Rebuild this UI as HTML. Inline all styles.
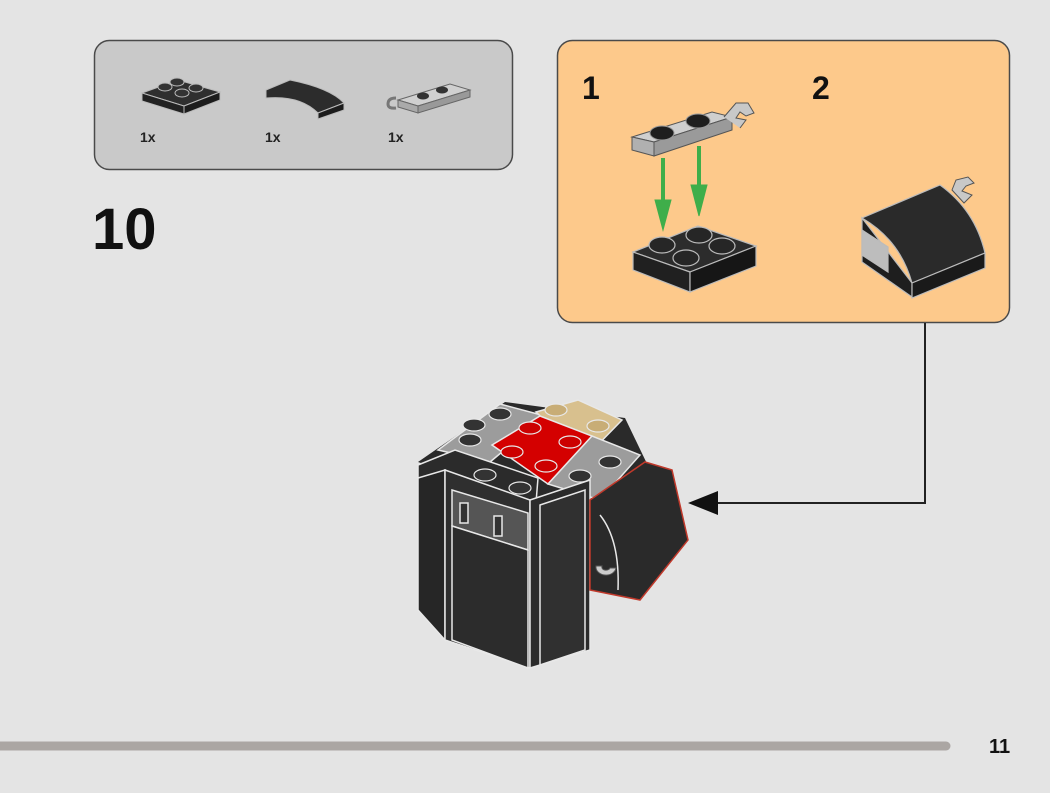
<!DOCTYPE html>
<html><head><meta charset="utf-8"><style>
html,body{margin:0;padding:0;background:#e4e4e4;}
body{width:1050px;height:793px;overflow:hidden;position:relative;font-family:"Liberation Sans",sans-serif;}
</style></head><body>
<svg width="1050" height="793" viewBox="0 0 1050 793" xmlns="http://www.w3.org/2000/svg" style="position:absolute;left:0;top:0">
<rect width="1050" height="793" fill="#e4e4e4"/>
<rect x="94.5" y="40.5" width="418" height="129" rx="15" fill="#c9c9c9" stroke="#4a4a4a" stroke-width="1.5"/>
<g stroke="#bbb" stroke-width="1">
<polygon points="142,93 178,80 220,92 184,106" fill="#2f2f2f"/>
<polygon points="142,93 184,106 184,114 142,101" fill="#222"/>
<polygon points="184,106 220,92 220,100 184,114" fill="#1c1c1c"/>
<ellipse cx="165" cy="87" rx="7" ry="4" fill="#333"/><ellipse cx="182" cy="93" rx="7" ry="4" fill="#333"/>
<ellipse cx="177" cy="82" rx="7" ry="4" fill="#333"/><ellipse cx="196" cy="88" rx="7" ry="4" fill="#333"/>
</g>
<text x="140" y="142" font-size="14" font-weight="bold" fill="#222">1x</text>
<path d="M266,90 L290,80 Q330,88 344,103 L318,113 Q300,95 266,98 Z" fill="#2c2c2c" stroke="#bbb"/>
<polygon points="318,113 344,103 344,110 318,119" fill="#1c1c1c" stroke="#bbb"/>
<text x="265" y="142" font-size="14" font-weight="bold" fill="#222">1x</text>
<polygon points="398,100 450,84 470,90 418,106" fill="#d0d0d0" stroke="#666"/>
<polygon points="398,100 418,106 418,113 398,107" fill="#aaa" stroke="#666"/>
<polygon points="418,106 470,90 470,97 418,113" fill="#999" stroke="#666"/>
<ellipse cx="423" cy="96" rx="6" ry="3.5" fill="#333"/><ellipse cx="442" cy="90" rx="6" ry="3.5" fill="#333"/>
<path d="M396,98 q-8,0 -8,6 q0,5 8,4" fill="none" stroke="#777" stroke-width="3"/>
<text x="388" y="142" font-size="14" font-weight="bold" fill="#222">1x</text>
<text x="92" y="249" font-size="58" font-weight="bold" fill="#111">10</text>
<rect x="557.5" y="40.5" width="452" height="282" rx="15" fill="#fdc98b" stroke="#4a4a4a" stroke-width="1.5"/>
<text x="582" y="99" font-size="32" font-weight="bold" fill="#111">1</text>
<text x="812" y="99" font-size="32" font-weight="bold" fill="#111">2</text>
<g stroke="#555" stroke-width="1">
<polygon points="632,137 712,112 732,117 654,142" fill="#cfcfcf"/>
<polygon points="632,137 654,142 654,156 632,150" fill="#b0b0b0"/>
<polygon points="654,142 732,117 732,130 654,156" fill="#9a9a9a"/>
<path d="M724,117 l12,-14 l12,0 l6,10 l-8,3 l-6,-4 l-4,6 l10,2 l-6,8" fill="#c8c8c8"/>
</g>
<ellipse cx="662" cy="133" rx="12" ry="7" fill="#1e1e1e" stroke="#999"/>
<ellipse cx="698" cy="121" rx="12" ry="7" fill="#1e1e1e" stroke="#999"/>
<g fill="#3fae4a" stroke="#3fae4a">
<line x1="663" y1="158" x2="663" y2="210" stroke-width="4"/><polygon points="655,200 671,200 663,230"/>
<line x1="699" y1="146" x2="699" y2="195" stroke-width="4"/><polygon points="691,185 707,185 699,216"/>
</g>
<g stroke="#bbb" stroke-width="1.2">
<polygon points="633,252 698,226 756,246 690,272" fill="#2c2c2c"/>
<polygon points="633,252 690,272 690,292 633,270" fill="#202020"/>
<polygon points="690,272 756,246 756,266 690,292" fill="#161616"/>
<ellipse cx="662" cy="245" rx="13" ry="8" fill="#262626"/><ellipse cx="699" cy="235" rx="13" ry="8" fill="#262626"/>
<ellipse cx="686" cy="258" rx="13" ry="8" fill="#262626"/><ellipse cx="722" cy="246" rx="13" ry="8" fill="#262626"/>
</g>
<g stroke="#bbb" stroke-width="1.2">
<path d="M862,218 L940,185 Q975,210 985,253 L912,283 Q900,240 862,218 Z" fill="#2a2a2a"/>
<polygon points="862,218 912,283 912,297 862,262" fill="#1e1e1e"/>
<polygon points="862,230 888,247 888,272 862,255" fill="#bdbdbd"/>
<polygon points="912,283 985,253 985,268 912,298" fill="#1a1a1a"/>
</g>
<path d="M952,190 l4,-10 l12,-3 l6,6 l-8,3 l-4,5 l10,4 l-8,8 z" fill="#c8c8c8" stroke="#555"/>
<polyline points="925,323 925,503 710,503" fill="none" stroke="#222" stroke-width="2"/>
<polygon points="688,503 718,491 718,515" fill="#111"/>
<!-- main model -->
<polygon points="418,462 505,402 625,418 650,470 590,500 530,500" fill="#2a2a2a"/>
<g stroke="#e8e8e8" stroke-width="1.5">
<polygon points="438,450 500,404 545,416 490,462" fill="#9c9c9c"/>
<polygon points="536,412 578,400 622,420 585,458" fill="#d8c08e"/>
<polygon points="492,445 540,416 592,436 548,484" fill="#d40000"/>
<polygon points="548,484 592,436 640,455 600,500" fill="#9c9c9c"/>
<polygon points="418,465 455,450 538,478 535,515 418,480" fill="#2b2b2b"/>
<polygon points="418,478 445,470 445,640 418,610" fill="#262626"/>
<polygon points="445,470 530,500 530,668 445,640" fill="#2f2f2f"/>
<polygon points="452,490 528,513 528,550 452,526" fill="#555"/>
<polygon points="452,526 528,550 528,668 452,640" fill="#2c2c2c"/>
<rect x="460" y="503" width="8" height="20" fill="#333"/>
<rect x="494" y="516" width="8" height="20" fill="#333"/>
<polygon points="530,500 590,480 590,650 530,668" fill="#2b2b2b"/>
<polygon points="540,505 585,490 585,650 540,665" fill="#303030"/>
<polygon points="590,500 645,462 672,470 688,540 640,600 590,590" fill="#2a2a2a" stroke="#c0392b"/>
<path d="M600,515 Q620,540 618,590" fill="none"/>
</g>
<g stroke="#e8e8e8" stroke-width="1.2">
<ellipse cx="474" cy="425" rx="11" ry="6" fill="#333"/><ellipse cx="500" cy="414" rx="11" ry="6" fill="#333"/>
<ellipse cx="470" cy="440" rx="11" ry="6" fill="#333"/>
<ellipse cx="556" cy="410" rx="11" ry="6" fill="#c8ad76"/><ellipse cx="598" cy="426" rx="11" ry="6" fill="#c8ad76"/>
<ellipse cx="530" cy="428" rx="11" ry="6" fill="#c00"/><ellipse cx="570" cy="442" rx="11" ry="6" fill="#c00"/>
<ellipse cx="512" cy="452" rx="11" ry="6" fill="#c00"/><ellipse cx="546" cy="466" rx="11" ry="6" fill="#c00"/>
<ellipse cx="610" cy="462" rx="11" ry="6" fill="#333"/><ellipse cx="580" cy="476" rx="11" ry="6" fill="#333"/>
<ellipse cx="485" cy="475" rx="11" ry="6" fill="#333"/><ellipse cx="520" cy="488" rx="11" ry="6" fill="#333"/>
</g>
<path d="M596,566 a10,8 0 1,0 20,2 l-6,0 a4,3 0 1,1 -8,-2 z" fill="#ccc" stroke="#555"/>
<line x1="0" y1="746" x2="946" y2="746" stroke="#aba6a3" stroke-width="9" stroke-linecap="round"/>
<text x="989" y="753" font-size="20" font-weight="bold" fill="#111">11</text>
</svg>
</body></html>
